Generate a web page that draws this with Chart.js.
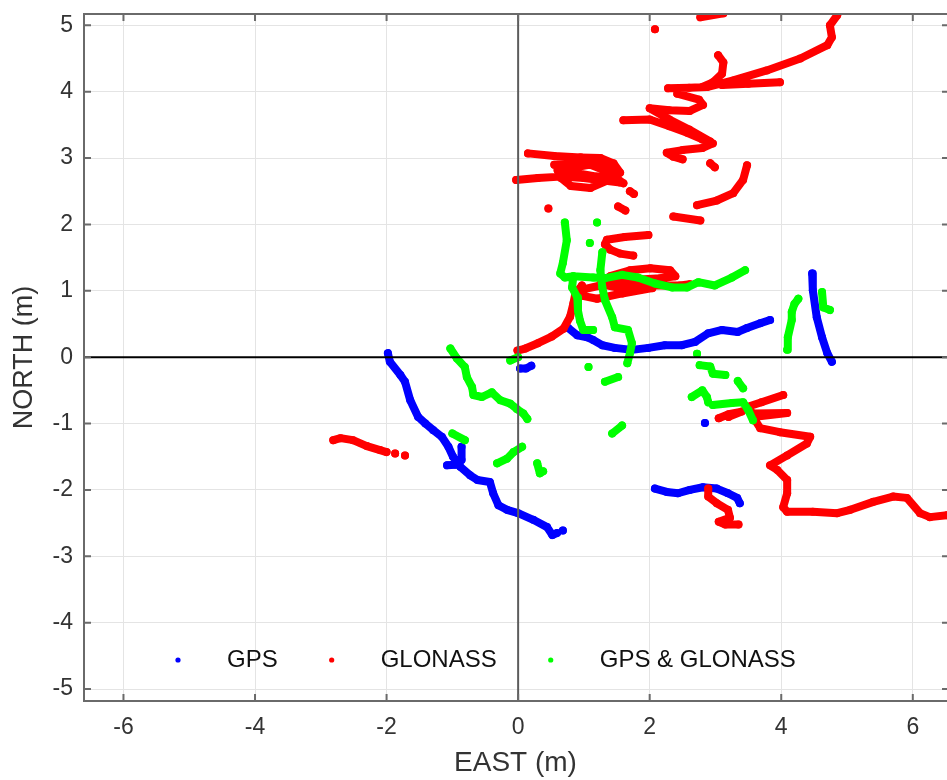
<!DOCTYPE html>
<html><head><meta charset="utf-8">
<script src="https://cdn.jsdelivr.net/npm/chart.js@4/dist/chart.umd.min.js"></script>
<style>html,body{margin:0;padding:0;background:#fff;}canvas{display:block;}</style>
</head><body>
<canvas id="c" width="947" height="780"></canvas>
<script>
// ---- axis ranges and tick labels ----
const xRange = [-6.6, 6.52];
const yRange = [-5.18, 5.17];
const xTicks = [-6, -4, -2, 0, 2, 4, 6];
const yTicks = [-5, -4, -3, -2, -1, 0, 1, 2, 3, 4, 5];
const xTitle = 'EAST (m)';
const yTitle = 'NORTH (m)';
const seriesNames = ['GPS', 'GLONASS', 'GPS & GLONASS'];
const seriesColors = ['#0000ff', '#ff0000', '#00ff00'];

// ---- GPS tracks (east, north) ----
const gpsTrackA = [[-1.98,0.06],[-1.95,-0.07],[-1.79,-0.27],[-1.72,-0.37],[-1.64,-0.65],[-1.52,-0.90],[-1.41,-1.00],[-1.29,-1.10],[-1.16,-1.20],[-1.06,-1.35],[-0.99,-1.50],[-0.88,-1.65],[-0.73,-1.78],[-0.62,-1.85],[-0.43,-1.88],[-0.38,-2.05],[-0.30,-2.23],[-0.17,-2.30],[0.00,-2.35],[0.23,-2.45],[0.44,-2.56],[0.52,-2.68],[0.59,-2.65]];
const gpsTrackB = [[-1.08,-1.63],[-0.95,-1.62],[-0.86,-1.55],[-0.86,-1.35]];
const gpsTrackC = [[0.03,-0.17],[0.12,-0.17],[0.20,-0.13]];
const gpsTrackD = [[0.76,0.44],[0.90,0.33],[1.05,0.30],[1.14,0.26],[1.28,0.18],[1.47,0.14],[1.73,0.11],[1.98,0.14],[2.23,0.18],[2.49,0.18],[2.69,0.23],[2.89,0.36],[3.10,0.41],[3.34,0.38],[3.48,0.44],[3.68,0.51],[3.83,0.56]];
const gpsTrackE = [[4.47,1.26],[4.48,1.01],[4.54,0.60],[4.62,0.30],[4.70,0.06],[4.77,-0.07]];
const gpsTrackF = [[2.08,-1.98],[2.26,-2.03],[2.43,-2.05],[2.61,-2.00],[2.81,-1.96],[3.02,-1.98],[3.19,-2.05],[3.33,-2.12],[3.37,-2.20]];
const gpsSingles = [[0.68,-2.61],[2.84,-0.99]];

// ---- GLONASS tracks ----
const gloTrackA = [[-2.81,-1.25],[-2.70,-1.22],[-2.51,-1.25],[-2.30,-1.34],[-2.10,-1.40],[-2.00,-1.43]];
const gloTrackB = [[-0.01,0.10],[0.11,0.13],[0.30,0.21],[0.51,0.31],[0.69,0.43],[0.79,0.61],[0.84,0.81],[0.87,0.96],[0.97,1.08]];
const gloTrackC = [[0.94,1.01],[1.25,1.08],[1.55,1.14],[1.85,1.17],[2.16,1.19],[2.39,1.22],[2.31,1.31],[2.01,1.34],[1.70,1.31],[1.40,1.22],[1.25,1.10],[1.55,1.04],[2.01,1.08],[2.46,1.08],[2.61,1.10]];
const gloTrackC2 = [[1.00,0.92],[1.20,0.88],[1.58,0.96],[2.04,1.04]];
const gloTrackD = [[1.98,1.84],[1.62,1.81],[1.35,1.77],[1.32,1.70],[1.40,1.62],[1.55,1.56],[1.75,1.53]];
const gloTrackE1 = [[0.15,3.07],[0.55,3.03],[0.95,3.01],[1.25,3.00],[1.45,2.92],[1.55,2.78],[1.45,2.70],[1.10,2.55],[0.80,2.58],[0.65,2.70],[0.80,2.85],[1.10,2.90],[1.35,2.80],[1.60,2.62]];
const gloTrackE2 = [[-0.03,2.67],[0.30,2.70],[0.65,2.72],[1.00,2.70],[1.30,2.66],[1.55,2.63]];
const gloTrackE5 = [[0.55,2.90],[0.95,2.93],[1.30,2.88],[1.50,2.75],[1.20,2.72],[0.85,2.78],[0.60,2.82]];
const gloTrackE3 = [[1.70,2.50],[1.76,2.46]];
const gloTrackE4 = [[1.52,2.27],[1.63,2.21]];
const gloTrackF = [[2.28,4.05],[2.60,4.06],[2.87,4.07],[3.27,4.17],[3.78,4.32],[4.29,4.50],[4.70,4.70],[4.77,4.82],[4.74,5.00],[4.85,5.15]];
const gloTrackG = [[3.98,4.14],[3.50,4.12],[3.10,4.10]];
const gloTrackH = [[3.04,4.55],[3.12,4.44],[3.10,4.27],[2.96,4.14],[2.80,4.07]];
const gloTrackI = [[2.42,3.97],[2.75,3.88],[2.81,3.80],[2.61,3.71],[2.30,3.72],[2.00,3.75],[2.30,3.58],[2.60,3.43],[2.92,3.25]];
const gloTrackJ = [[1.60,3.57],[2.00,3.58],[2.30,3.48],[2.57,3.38],[2.80,3.28],[2.96,3.22],[2.80,3.15],[2.50,3.12],[2.26,3.08],[2.36,3.02],[2.50,2.98]];
const gloTrackK = [[3.48,2.89],[3.42,2.67],[3.27,2.47],[3.02,2.36],[2.72,2.29]];
const gloTrackL = [[2.36,2.12],[2.77,2.06]];
const gloTrackM = [[2.77,5.12],[3.12,5.18]];
const gloTrackN = [[2.92,2.92],[2.99,2.86]];
const gloTrackO = [[3.05,-0.92],[3.20,-0.86],[3.40,-0.82],[3.20,-0.90]];
const gloTrackP = [[4.03,-0.57],[3.70,-0.68],[3.48,-0.75],[3.57,-0.85],[4.09,-0.84],[3.57,-0.90],[3.68,-1.07],[3.98,-1.13],[4.44,-1.20],[4.39,-1.30],[4.09,-1.48],[3.83,-1.63],[3.94,-1.70],[4.09,-1.85],[4.09,-2.05],[4.03,-2.26],[4.09,-2.33],[4.48,-2.33],[4.85,-2.35],[5.05,-2.30],[5.40,-2.18],[5.70,-2.10],[5.91,-2.12],[6.11,-2.35],[6.26,-2.41],[6.52,-2.38]];
const gloTrackQ = [[2.89,-1.98],[2.89,-2.10],[3.02,-2.20],[3.19,-2.30],[3.22,-2.42],[3.05,-2.48],[3.15,-2.52],[3.35,-2.52]];
const gloSingles = [[-1.87,-1.45],[-1.72,-1.48],[0.46,2.24],[2.08,4.94]];

// ---- GPS & GLONASS tracks ----
const bothTrackA = [[-1.03,0.13],[-0.93,-0.02],[-0.81,-0.15],[-0.78,-0.30],[-0.70,-0.45],[-0.68,-0.57],[-0.55,-0.60],[-0.40,-0.53],[-0.27,-0.65],[-0.12,-0.70],[-0.02,-0.78],[0.08,-0.85],[0.14,-0.93]];
const bothTrackB = [[-1.00,-1.15],[-0.81,-1.25]];
const bothTrackC = [[-0.32,-1.60],[-0.17,-1.53],[-0.07,-1.43],[0.06,-1.35]];
const bothTrackD = [[0.29,-1.60],[0.33,-1.75],[0.38,-1.72]];
const bothTrackF = [[1.32,-0.37],[1.52,-0.30]];
const bothTrackG = [[1.43,-1.15],[1.58,-1.03]];
const bothTrackH = [[0.71,2.03],[0.74,1.76],[0.68,1.42],[0.64,1.26],[0.71,1.20],[0.84,1.22],[0.82,1.05],[0.90,0.90],[0.91,0.70],[0.94,0.55],[0.99,0.41],[1.14,0.41]];
const bothTrackI = [[1.28,1.58],[1.25,1.31],[1.28,1.05],[1.32,0.86],[1.43,0.60],[1.47,0.45],[1.67,0.41],[1.73,0.21],[1.70,0.06],[1.66,-0.09]];
const bothTrackJ = [[0.84,1.22],[1.14,1.20],[1.32,1.19],[1.58,1.24],[1.82,1.20],[2.08,1.11],[2.34,1.05],[2.57,1.05],[2.74,1.13],[2.99,1.08],[3.25,1.20],[3.45,1.31]];
const bothTrackK = [[2.76,-0.12],[2.92,-0.14],[2.96,-0.25],[3.15,-0.27]];
const bothTrackL = [[3.34,-0.36],[3.42,-0.47]];
const bothTrackM = [[2.64,-0.60],[2.80,-0.50],[2.87,-0.60],[2.89,-0.68]];
const bothTrackN = [[2.96,-0.72],[3.25,-0.69],[3.42,-0.68],[3.50,-0.80],[3.57,-0.95]];
const bothTrackO = [[4.09,0.11],[4.10,0.30],[4.16,0.56],[4.16,0.68],[4.20,0.80],[4.26,0.88]];
const bothTrackP = [[4.62,0.98],[4.64,0.75],[4.74,0.71]];
const bothTrackQ = [[-0.12,-0.05],[0.00,0.00]];
const bothSingles = [[1.07,-0.15],[1.20,2.03],[1.09,1.72],[2.72,0.05]];

// ---- reference lines through origin ----
const northAxisLine = [[0, yRange[0]], [0, yRange[1]]];
const eastAxisLine = [[xRange[0], 0], [xRange[1], 0]];

function joinTracks(tracks, singles) {
  const out = [];
  const all = tracks.concat((singles || []).map(p => [p]));
  all.forEach((t, i) => {
    if (i) out.push({x: null, y: null});
    t.forEach(p => out.push({x: p[0], y: p[1]}));
  });
  return out;
}

const gpsData = joinTracks([gpsTrackA, gpsTrackB, gpsTrackC, gpsTrackD, gpsTrackE, gpsTrackF], gpsSingles);
const gloData = joinTracks([gloTrackA, gloTrackB, gloTrackC, gloTrackC2, gloTrackD, gloTrackE1, gloTrackE2, gloTrackE5, gloTrackE3, gloTrackE4, gloTrackF, gloTrackG, gloTrackH, gloTrackI, gloTrackJ, gloTrackK, gloTrackL, gloTrackM, gloTrackN, gloTrackO, gloTrackP, gloTrackQ], gloSingles);
const bothData = joinTracks([bothTrackA, bothTrackB, bothTrackC, bothTrackD, bothTrackF, bothTrackG, bothTrackH, bothTrackI, bothTrackJ, bothTrackK, bothTrackL, bothTrackM, bothTrackN, bothTrackO, bothTrackP, bothTrackQ], bothSingles);

const FONT = 'Liberation Sans, Arial, Helvetica, sans-serif';

function trackDataset(label, data, color, order) {
  return {
    label, data, order,
    showLine: true, spanGaps: false,
    borderColor: color, backgroundColor: color,
    borderWidth: 8, borderCapStyle: 'round', borderJoinStyle: 'round',
    pointRadius: 4, pointBorderWidth: 0, pointBackgroundColor: color,
    pointHoverRadius: 4, tension: 0
  };
}
function refLine(data, color, width) {
  return {
    label: '', data: data.map(p => ({x: p[0], y: p[1]})), order: 0,
    showLine: true, borderColor: color, borderWidth: width, pointRadius: 0, isRef: true
  };
}

const framePlugin = {
  id: 'frame',
  afterDraw(chart) {
    const {ctx, chartArea: a, scales: {x, y}} = chart;
    ctx.save();
    ctx.strokeStyle = '#6a6a6a';
    ctx.lineWidth = 2;
    ctx.beginPath();
    ctx.moveTo(a.right + 2, a.top); ctx.lineTo(a.left, a.top);
    ctx.lineTo(a.left, a.bottom); ctx.lineTo(a.right + 2, a.bottom);
    xTicks.forEach(v => {
      const p = x.getPixelForValue(v);
      ctx.moveTo(p, a.bottom); ctx.lineTo(p, a.bottom - 7);
      ctx.moveTo(p, a.top); ctx.lineTo(p, a.top + 7);
    });
    yTicks.forEach(v => {
      const p = y.getPixelForValue(v);
      ctx.moveTo(a.left, p); ctx.lineTo(a.left + 7, p);
      ctx.moveTo(a.right, p); ctx.lineTo(a.right - 5, p);
    });
    ctx.stroke();
    // legend inside the axes, bottom
    ctx.font = '24px ' + FONT;
    ctx.textBaseline = 'middle';
    ctx.textAlign = 'left';
    const ly = a.bottom - 41;
    let lx = a.left + 94;
    seriesNames.forEach(name => {
      const d = chart.data.datasets.find(ds => ds.label === name);
      ctx.fillStyle = d.borderColor;
      ctx.beginPath(); ctx.arc(lx, ly, 2.6, 0, Math.PI * 2); ctx.fill();
      ctx.fillStyle = '#111';
      ctx.fillText(d.label, lx + 49, ly);
      lx += 49 + ctx.measureText(d.label).width + 54;
    });
    ctx.restore();
  }
};

new Chart(document.getElementById('c'), {
  type: 'scatter',
  data: {
    datasets: [
      refLine(northAxisLine, '#5c5c5c', 2),
      refLine(eastAxisLine, '#000000', 2),
      trackDataset(seriesNames[2], bothData, seriesColors[2], 1),
      trackDataset(seriesNames[1], gloData, seriesColors[1], 2),
      trackDataset(seriesNames[0], gpsData, seriesColors[0], 3)
    ]
  },
  options: {
    responsive: false, animation: false, devicePixelRatio: 1,
    layout: {autoPadding: false, padding: {top: 14, left: 0, right: 0, bottom: 0}},
    plugins: {legend: {display: false}, tooltip: {enabled: false}},
    events: [],
    scales: {
      x: {
        type: 'linear', min: xRange[0], max: xRange[1],
        afterBuildTicks: s => { s.ticks = xTicks.map(v => ({value: v})); },
        afterFit: s => { s.height = 79; s.paddingLeft = 0; s.paddingRight = 0; },
        grid: {color: '#e4e4e4', lineWidth: 1, drawTicks: false},
        border: {display: false},
        ticks: {padding: 13, color: '#333333', font: {size: 23, family: FONT}, callback: v => String(v), maxRotation: 0, autoSkip: false},
        title: {display: true, text: xTitle, color: '#333333', font: {size: 28, family: FONT}, padding: {top: 0, bottom: 0}}
      },
      y: {
        type: 'linear', min: yRange[0], max: yRange[1],
        afterBuildTicks: s => { s.ticks = yTicks.map(v => ({value: v})); },
        afterFit: s => { s.width = 84; s.paddingTop = 0; s.paddingBottom = 0; },
        grid: {color: '#e4e4e4', lineWidth: 1, drawTicks: false},
        border: {display: false},
        ticks: {padding: 11, color: '#333333', font: {size: 23, family: FONT}, callback: v => String(v), autoSkip: false},
        title: {display: true, text: yTitle, color: '#333333', font: {size: 27, family: FONT}, padding: {top: 8, bottom: 0}}
      }
    }
  },
  plugins: [framePlugin]
});
</script>
</body></html>
